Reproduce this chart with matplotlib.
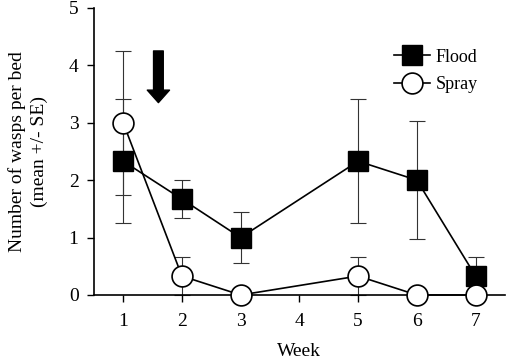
import matplotlib.pyplot as plt
import numpy as np

plt.rcParams['font.family'] = ['Liberation Serif', 'DejaVu Serif']

weeks = [1, 2, 3, 5, 6, 7]
flood = [2.33, 1.67, 1.0, 2.33, 2.0, 0.33]
flood_se = [1.08, 0.33, 0.45, 1.08, 1.03, 0.33]
spray = [3.0, 0.33, 0.0, 0.33, 0.0, 0.0]
spray_se = [1.25, 0.33, 0.0, 0.33, 0.0, 0.0]

fig = plt.figure(figsize=(5.07, 3.58), dpi=100)
ax = fig.add_axes([0.185, 0.176, 0.811, 0.802])

ax.errorbar(weeks, flood, yerr=flood_se, fmt='none', ecolor='#333333',
            elinewidth=0.8, capsize=6, capthick=0.8, zorder=1)
ax.errorbar(weeks, spray, yerr=spray_se, fmt='none', ecolor='#333333',
            elinewidth=0.8, capsize=6, capthick=0.8, zorder=1)

ax.plot(weeks, flood, color='black', lw=1.2, marker='s', markersize=14,
        markerfacecolor='black', markeredgecolor='black', label='Flood', zorder=3)
ax.plot(weeks, spray, color='black', lw=1.2, marker='o', markersize=15,
        markerfacecolor='white', markeredgecolor='black', markeredgewidth=1.2,
        label='Spray', zorder=4)

# treatment arrow
ax.annotate('', xy=(1.6, 3.35), xytext=(1.6, 4.25),
            arrowprops=dict(facecolor='black', edgecolor='black', width=7,
                            headwidth=16, headlength=9))

ax.set_xlim(0.5, 7.5)
ax.set_ylim(0, 5)
ax.set_xticks(range(1, 8))
ax.set_yticks(range(0, 6))
ax.tick_params(labelsize=14, length=5, width=1, direction='out')
ax.tick_params(axis='x', pad=8)
ax.tick_params(axis='y', pad=6)
ax.spines['top'].set_visible(False)
ax.spines['right'].set_visible(False)
for s in ['left', 'bottom']:
    ax.spines[s].set_linewidth(1.2)
for a in ax.get_children():
    if hasattr(a, 'set_clip_on'):
        a.set_clip_on(False)

ax.set_xlabel('Week', fontsize=14, labelpad=9)
ax.set_ylabel('Number of wasps per bed\n(mean +/- SE)', fontsize=14,
              labelpad=15, linespacing=1.35)

ax.legend(loc='center left', bbox_to_anchor=(0.69, 0.78), frameon=False,
          fontsize=13, markerscale=1.0, handlelength=2.0, handletextpad=0.3,
          labelspacing=0.6)

fig.savefig('out.png', dpi=100)
